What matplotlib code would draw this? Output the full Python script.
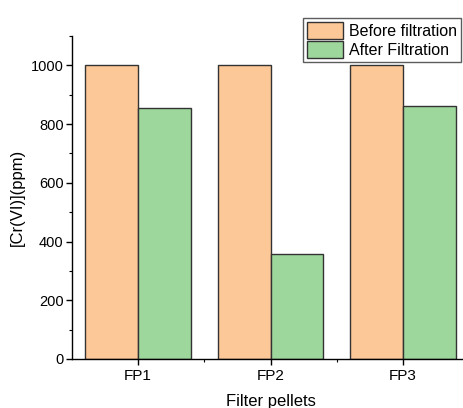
import matplotlib
matplotlib.use("Agg")
import matplotlib.pyplot as plt
import numpy as np
from matplotlib.ticker import MultipleLocator, FixedLocator

categories = ["FP1", "FP2", "FP3"]
before = [1000, 1000, 1000]
after = [855, 358, 861]

plt.rcParams['font.family'] = ['Liberation Sans', 'DejaVu Sans']

fig = plt.figure(figsize=(4.64, 4.08), dpi=100)
ax = fig.add_axes([72/464, 49/408, 397/464, 323/408])

x = np.arange(1, len(categories) + 1)
w = 0.4
ax.bar(x - w/2, before, w, color='#FDC897', edgecolor='#333333', linewidth=1.0, label='Before filtration')
ax.bar(x + w/2, after, w, color='#9ED79C', edgecolor='#333333', linewidth=1.0, label='After Filtration')

ax.set_xlim(0.5, 3.5)
ax.set_ylim(0, 1100)
ax.set_xticks(x)
ax.set_xticklabels(categories, fontsize=11)
ax.xaxis.set_minor_locator(FixedLocator([1.5, 2.5]))
ax.yaxis.set_major_locator(MultipleLocator(200))
ax.yaxis.set_minor_locator(MultipleLocator(100))
ax.tick_params(axis='y', which='major', labelsize=10.5, length=4, width=1, direction='out', pad=2)
ax.tick_params(axis='y', which='minor', length=2.5, width=0.8, direction='out')
ax.tick_params(axis='x', which='major', length=4, width=1, direction='out', pad=3)
ax.tick_params(axis='x', which='minor', length=2.5, width=0.8, direction='out')

for s in ['top', 'right']:
    ax.spines[s].set_visible(False)
ax.spines['left'].set_linewidth(1)
ax.spines['bottom'].set_linewidth(1)

ax.set_xlabel('Filter pellets', fontsize=12, labelpad=8)
ax.set_ylabel('[Cr(VI)](ppm)', fontsize=12, labelpad=4)

leg = ax.legend(loc='upper left', fontsize=11.5, frameon=True, fancybox=False, edgecolor='#333333',
                handlelength=2.25, handleheight=1.25, handletextpad=0.35, borderpad=0.25, labelspacing=0.15,
                borderaxespad=0)
leg.set_bbox_to_anchor((303/464, 1 - 18/408), transform=fig.transFigure)
leg.get_frame().set_linewidth(1)

fig.savefig('out.png', dpi=100)
